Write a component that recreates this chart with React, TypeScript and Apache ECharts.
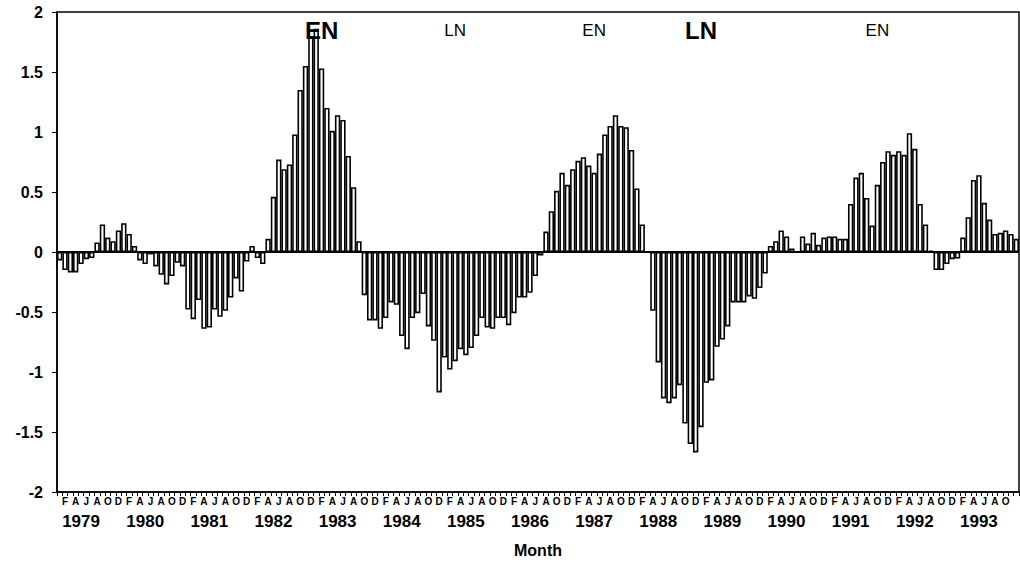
import { useEffect, useRef } from "react";
import * as echarts from "echarts";

// Monthly index values, January to December of each year
const years = ["1979", "1980", "1981", "1982", "1983", "1984", "1985", "1986", "1987", "1988", "1989", "1990", "1991", "1992", "1993"];
const monthLetters = ["J", "F", "M", "A", "M", "J", "J", "A", "S", "O", "N", "D"];

const v1979 = [-0.07, -0.15, -0.17, -0.17, -0.1, -0.06, -0.05, 0.08, 0.23, 0.12, 0.09, 0.18];
const v1980 = [0.24, 0.15, 0.05, -0.07, -0.1, -0.02, -0.12, -0.19, -0.27, -0.2, -0.09, -0.12];
const v1981 = [-0.48, -0.56, -0.4, -0.64, -0.63, -0.48, -0.54, -0.49, -0.38, -0.22, -0.33, -0.08];
const v1982 = [0.05, -0.05, -0.1, 0.11, 0.46, 0.77, 0.69, 0.73, 0.98, 1.35, 1.55, 1.8];
const v1983 = [1.86, 1.53, 1.2, 1.01, 1.14, 1.1, 0.8, 0.54, 0.09, -0.36, -0.57, -0.57];
const v1984 = [-0.64, -0.55, -0.42, -0.44, -0.7, -0.81, -0.55, -0.51, -0.35, -0.62, -0.74, -1.17];
const v1985 = [-0.88, -0.98, -0.91, -0.81, -0.86, -0.8, -0.7, -0.55, -0.63, -0.64, -0.55, -0.55];
const v1986 = [-0.61, -0.51, -0.38, -0.38, -0.34, -0.2, -0.03, 0.17, 0.34, 0.51, 0.66, 0.56];
const v1987 = [0.69, 0.76, 0.79, 0.72, 0.66, 0.82, 0.98, 1.05, 1.14, 1.05, 1.04, 0.85];
const v1988 = [0.53, 0.23, 0.0, -0.49, -0.92, -1.22, -1.26, -1.22, -1.11, -1.43, -1.6, -1.67];
const v1989 = [-1.46, -1.09, -1.07, -0.79, -0.73, -0.62, -0.42, -0.42, -0.42, -0.37, -0.39, -0.3];
const v1990 = [-0.18, 0.05, 0.09, 0.18, 0.13, 0.03, 0.0, 0.13, 0.07, 0.16, 0.06, 0.12];
const v1991 = [0.13, 0.13, 0.11, 0.11, 0.4, 0.62, 0.66, 0.45, 0.22, 0.56, 0.75, 0.84];
const v1992 = [0.81, 0.84, 0.81, 0.99, 0.86, 0.4, 0.23, 0.01, -0.15, -0.15, -0.1, -0.06];
const v1993 = [-0.055, 0.12, 0.29, 0.6, 0.64, 0.41, 0.27, 0.15, 0.16, 0.18, 0.15, 0.11];

// El Niño / La Niña annotations
const ensoTexts = ["EN", "LN", "EN", "LN", "EN"];
const ensoMonths = ["1983-02", "1985-03", "1987-05", "1989-01", "1991-10"];
const ensoStrong = [true, false, false, true, false];

const yTicks = [-2, -1.5, -1, -0.5, 0, 0.5, 1, 1.5, 2];

const values = [
  ...v1979, ...v1980, ...v1981, ...v1982, ...v1983, ...v1984, ...v1985, ...v1986,
  ...v1987, ...v1988, ...v1989, ...v1990, ...v1991, ...v1992, ...v1993,
];
const categories = years.flatMap((y) => monthLetters.map((_, i) => `${y}-${String(i + 1).padStart(2, "0")}`));

const FONT = "'Liberation Sans', Arial, Helvetica, sans-serif";
const LABEL_LEVEL = 1.85;

function buildOption() {
  const ensoData = ensoTexts.map((text, i) => {
    const idx = categories.indexOf(ensoMonths[i]);
    return {
      value: [idx, LABEL_LEVEL],
      label: {
        show: true,
        position: "inside",
        formatter: text,
        color: "#000",
        opacity: 1,
        fontFamily: FONT,
        fontSize: ensoStrong[i] ? 24 : 17,
        fontWeight: ensoStrong[i] ? "bold" : "normal",
      },
    };
  });

  return {
    animation: false,
    backgroundColor: "#fff",
    grid: {
      left: 57,
      right: 1,
      top: 12,
      bottom: 79,
      show: true,
      borderColor: "#000",
      borderWidth: 1.5,
      backgroundColor: "transparent",
    },
    xAxis: [
      {
        type: "category",
        data: categories,
        position: "bottom",
        boundaryGap: true,
        axisLine: { onZero: false, lineStyle: { color: "#000", width: 1.5 } },
        axisTick: { show: true, interval: 0, length: 4, lineStyle: { color: "#000", width: 1 } },
        axisLabel: {
          interval: (index: number) => index % 2 === 1 && index < categories.length - 1,
          formatter: (v: string) => monthLetters[parseInt(v.slice(5), 10) - 1],
          color: "#000",
          fontFamily: FONT,
          fontWeight: "bold",
          fontSize: 10,
          margin: 4,
        },
        splitLine: { show: false },
      },
      {
        type: "category",
        data: categories,
        position: "bottom",
        boundaryGap: true,
        axisLine: { show: false, onZero: false },
        axisTick: { show: false },
        axisLabel: {
          interval: (index: number) => index % 12 === 4,
          formatter: (v: string) => v.slice(0, 4),
          color: "#000",
          fontFamily: FONT,
          fontWeight: "bold",
          fontSize: 17,
          margin: 21,
        },
        splitLine: { show: false },
        name: "Month",
        nameLocation: "middle",
        nameGap: 50,
        nameTextStyle: { color: "#000", fontFamily: FONT, fontWeight: "bold", fontSize: 16 },
      },
    ],
    yAxis: {
      type: "value",
      min: yTicks[0],
      max: yTicks[yTicks.length - 1],
      interval: 0.5,
      axisLine: { show: true, lineStyle: { color: "#000", width: 1.5 } },
      axisTick: { show: true, length: 5, lineStyle: { color: "#000", width: 1 } },
      axisLabel: {
        color: "#000",
        fontFamily: FONT,
        fontWeight: "bold",
        fontSize: 16,
        margin: 14,
        formatter: (v: number) => String(v),
      },
      splitLine: { show: false },
    },
    series: [
      {
        type: "bar",
        data: values,
        xAxisIndex: 0,
        barCategoryGap: "0%",
        itemStyle: { color: "#fff", borderColor: "#000", borderWidth: 1.6 },
        markLine: {
          silent: true,
          symbol: ["none", "none"],
          label: { show: false },
          lineStyle: { color: "#000", width: 2, type: "solid" },
          data: [{ yAxis: 0 }],
        },
      },
      {
        type: "scatter",
        xAxisIndex: 0,
        data: ensoData,
        symbolSize: 1,
        itemStyle: { color: "rgba(0,0,0,0)" },
        z: 5,
      },
    ],
  };
}

export default function App() {
  const ref = useRef<HTMLDivElement>(null);
  useEffect(() => {
    document.body.style.margin = "0";
    const chart = echarts.init(ref.current!, null, { renderer: "svg" });
    chart.setOption(buildOption() as any);
    return () => chart.dispose();
  }, []);
  return <div ref={ref} style={{ width: 1020, height: 571 }} />;
}
